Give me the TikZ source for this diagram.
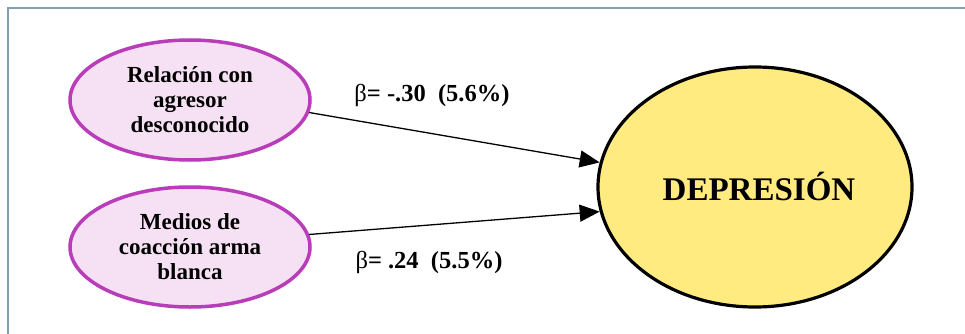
\documentclass[tikz,border=0pt]{standalone}
\usepackage{fontspec}
\setmainfont{Liberation Serif}
\usetikzlibrary{arrows.meta,shapes.geometric}
\definecolor{frameline}{HTML}{7F9FB3}
\definecolor{predline}{HTML}{B93CB9}
\definecolor{predfill}{HTML}{F6E0F4}
\definecolor{outfill}{HTML}{FFEB80}

\begin{document}
\begin{tikzpicture}[x=1pt,y=-1pt,
    predictor/.style={ellipse,draw=predline,line width=3.5pt,fill=predfill,
      minimum width=240pt,minimum height=120pt,inner sep=0pt,align=center,
      font=\fontsize{23}{25}\selectfont\bfseries},
    outcome/.style={ellipse,draw=black,line width=3.2pt,fill=outfill,
      minimum width=314pt,minimum height=240pt,inner sep=0pt,
      font=\fontsize{33}{38}\selectfont\bfseries},
    effect/.style={line width=1.3pt,-{Triangle[length=20pt,width=17pt]}},
    coef/.style={font=\fontsize{24.5}{28}\selectfont\bfseries}]
  \useasboundingbox (0,0) rectangle (965,334);

  % Frame
  \draw[frameline,line width=1.5pt] (965,8) -- (8,8) -- (8,334);

  % Predictors
  \node[predictor] (rel) at (190,100) {Relación con\\agresor\\desconocido};
  \node[predictor] (arm) at (190,247) {Medios de\\coacción arma\\blanca};

  % Outcome
  \node[outcome] (dep) at (755,187) {\hspace*{8pt}DEPRESIÓN};

  % Effects
  \draw[effect] (rel.-6) -- (dep.171);
  \draw[effect] (arm.6) -- (dep.189);
  \node[coef] (b1) at (432,95) {{\mdseries β}= -.30\ \ (5.6\%)};
  \node[coef] (b2) at (429,262) {{\mdseries β}= .24\ \ (5.5\%)};
\end{tikzpicture}
\end{document}
